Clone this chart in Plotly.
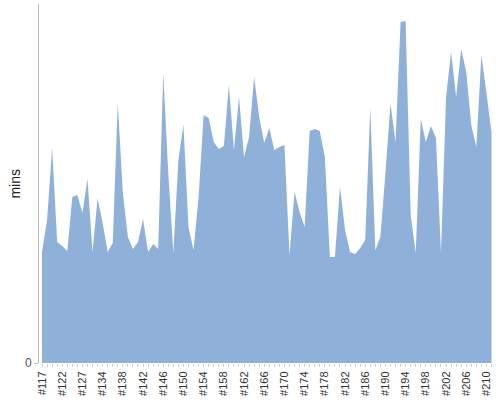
import plotly.graph_objects as go

# session ids along the x axis
sessions = [117, 118, 119, 120, 122, 123, 124, 125, 127, 129, 131, 132, 134] + list(range(135, 212))
categories = ["#%d" % s for s in sessions]

# minutes per session
mins = [111, 143, 215, 121, 117, 112, 166, 168, 150, 184,
        111, 165, 140, 111, 120, 260, 170, 126, 114, 121,
        144, 111, 119, 114, 290, 190, 110, 203, 238, 136,
        113, 166, 248, 245, 221, 214, 217, 278, 213, 266,
        206, 226, 286, 246, 220, 235, 213, 216, 218, 108,
        171, 151, 136, 232, 234, 232, 206, 106, 106, 176,
        133, 111, 109, 115, 123, 255, 113, 126, 190, 259,
        221, 341, 342, 148, 110, 244, 221, 237, 225, 110,
        266, 311, 266, 314, 291, 238, 216, 308, 270, 231]

tick_text = [c if i % 4 == 0 else "" for i, c in enumerate(categories)]

fig = go.Figure()
fig.add_trace(go.Scatter(x=categories, y=mins, mode="lines", fill="tozeroy",
                         line=dict(width=0, color="rgb(143,177,217)"),
                         fillcolor="rgb(143,177,217)", hoverinfo="x+y"))

fig.update_layout(
    width=500, height=400,
    margin=dict(l=39, r=8, t=4, b=37),
    plot_bgcolor="white", paper_bgcolor="white",
    showlegend=False,
    font=dict(family="Liberation Sans", size=11, color="#444"),
)
fig.update_xaxes(type="category", range=[-0.6, 89.1], automargin=False,
                 tickmode="array", tickvals=categories, ticktext=tick_text,
                 tickangle=-90, ticks="outside", ticklen=3, tickcolor="#ccc",
                 showgrid=False, showline=False, zeroline=False,
                 tickfont=dict(size=11, color="#333"))
fig.update_yaxes(range=[0, 359], automargin=False,
                 tickmode="array", tickvals=[0], ticktext=["0"],
                 ticks="outside", ticklen=4, tickcolor="#bbb",
                 showline=True, linecolor="#bbb", linewidth=1,
                 showgrid=False, zeroline=False,
                 tickfont=dict(size=12, color="#555"))
fig.add_annotation(text="mins", xref="paper", yref="paper", x=-0.055, y=0.5,
                   xanchor="center", yanchor="middle", textangle=-90, showarrow=False,
                   font=dict(size=14, color="#222"))

# the page body has an 8px margin by default; drop it so the chart sits at 0,0
fig.write_html("out.html", config={"displayModeBar": False},
               post_script="document.body.style.margin='0px';")
